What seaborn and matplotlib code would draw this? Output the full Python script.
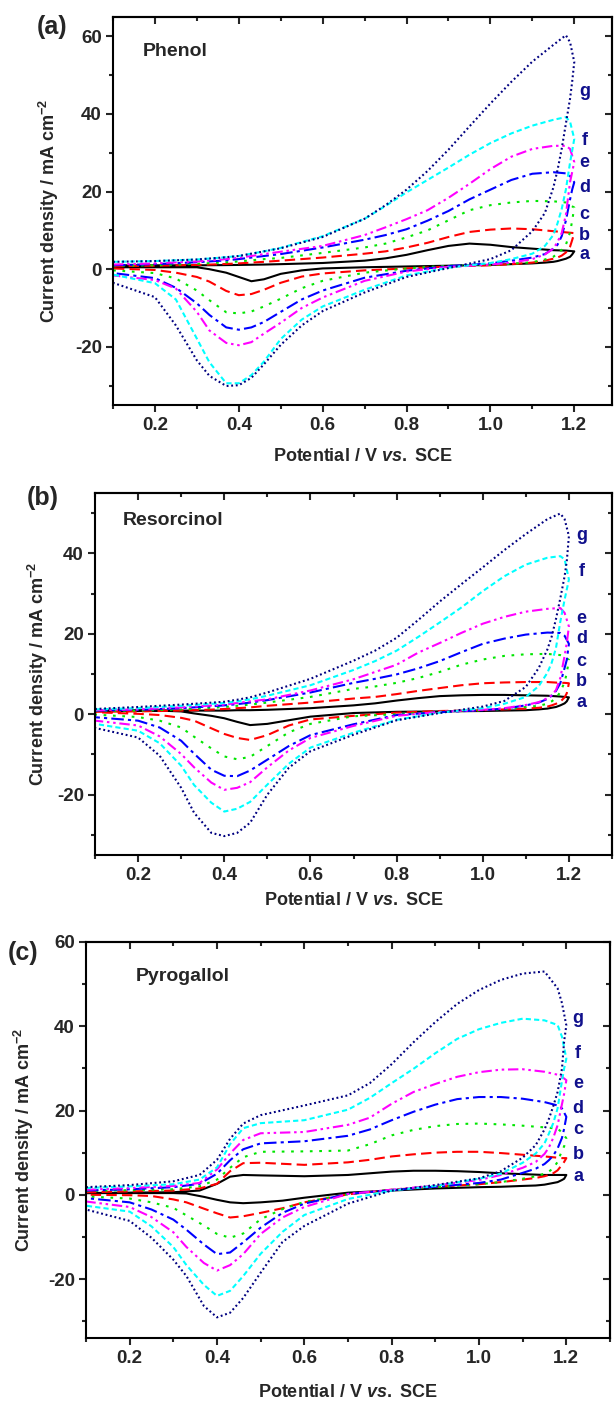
import pandas as pd
import matplotlib
matplotlib.use("Agg")
import matplotlib.pyplot as plt
from matplotlib.ticker import MultipleLocator, NullFormatter, FormatStrFormatter
import seaborn as sns

# ---------------- data ----------------
scans = ['a', 'b', 'c', 'd', 'e', 'f', 'g']

# potential grid: anodic sweep 0.1 -> 1.2 V, then back 1.2 -> 0.1 V
E_fwd = [0.1, 0.2, 0.3, 0.36, 0.4, 0.43, 0.46, 0.5, 0.6, 0.7, 0.75, 0.8, 0.85,
         0.9, 0.95, 1.0, 1.05, 1.1, 1.15, 1.18, 1.19, 1.2]
E_rev = [1.195, 1.19, 1.18, 1.17, 1.16, 1.15, 1.13, 1.1, 1.05, 1.0, 0.9, 0.8,
         0.7, 0.6, 0.55, 0.5, 0.46, 0.43, 0.4, 0.37, 0.33, 0.3, 0.25, 0.2, 0.1]

# current density (mA cm-2), one row per curve a..g
phenol_fwd = [
    [1.0, 1.0, 1.0, 1.05, 1.1, 1.15, 1.2, 1.3, 1.6, 2.2, 2.8, 3.7, 4.9, 6.0, 6.6, 6.3, 5.7, 5.3, 4.9, 4.8, 4.7, 4.6],
    [0.8, 0.9, 1.1, 1.3, 1.5, 1.7, 1.9, 2.2, 3.0, 4.0, 4.6, 5.6, 6.8, 8.3, 9.6, 10.2, 10.5, 10.3, 9.8, 9.5, 9.4, 9.3],
    [0.9, 1.0, 1.4, 1.7, 2.0, 2.3, 2.6, 2.9, 4.2, 5.6, 6.6, 8.2, 10.0, 12.6, 15.2, 16.5, 17.2, 17.6, 17.5, 17.2, 16.5, 15.9],
    [1.0, 1.3, 1.8, 2.2, 2.6, 3.0, 3.4, 3.9, 5.6, 7.6, 8.8, 10.3, 12.5, 15.0, 18.0, 20.5, 23.0, 24.6, 25.0, 24.7, 24.0, 22.4],
    [1.2, 1.5, 2.0, 2.5, 3.0, 3.4, 3.9, 4.5, 6.0, 8.8, 10.8, 12.9, 15.2, 18.4, 22.0, 25.8, 29.0, 31.0, 31.8, 31.8, 31.0, 27.6],
    [1.9, 2.1, 2.5, 3.0, 3.4, 4.0, 4.6, 5.5, 8.5, 13.0, 16.3, 19.8, 23.0, 26.2, 29.5, 32.5, 35.0, 37.0, 38.5, 39.2, 38.0, 33.6],
    [1.9, 2.1, 2.5, 3.0, 3.4, 4.0, 4.6, 5.4, 8.3, 13.0, 16.5, 20.5, 25.3, 30.8, 36.8, 42.7, 48.3, 53.5, 57.8, 60.3, 58.5, 53.4],
]
phenol_rev = [
    [3.8, 3.2, 2.7, 2.4, 2.1, 1.9, 1.7, 1.5, 1.3, 1.1, 0.9, 0.7, 0.5, 0.2, -0.3, -1.2, -2.6, -3.1, -2.0, -0.9, 0.0, 0.5, 0.5, 0.5, 0.5],
    [7.5, 5.8, 4.3, 3.5, 3.0, 2.7, 2.2, 1.7, 1.3, 1.0, 0.7, 0.2, -0.3, -1.1, -1.9, -3.5, -5.3, -6.4, -6.7, -5.6, -3.2, -2.0, -0.9, -0.2, 0.2],
    [12.5, 9.5, 6.3, 5.0, 4.0, 3.2, 2.5, 1.8, 1.4, 1.1, 0.9, 0.2, -0.9, -3.0, -4.9, -7.6, -9.6, -10.9, -11.4, -11.1, -8.0, -5.5, -2.4, -1.0, -0.3],
    [20.5, 18.0, 12.5, 8.5, 6.3, 5.3, 3.9, 3.0, 2.2, 1.5, 0.8, -0.4, -2.2, -5.5, -7.8, -11.0, -13.6, -15.0, -15.6, -15.0, -11.8, -8.8, -4.8, -2.3, -1.0],
    [25.0, 22.5, 14.0, 9.3, 7.0, 5.3, 3.8, 2.6, 1.7, 1.2, 0.6, -0.6, -3.0, -7.3, -10.0, -13.8, -16.6, -18.8, -19.6, -19.0, -15.8, -11.0, -5.0, -2.8, -1.6],
    [30.5, 27.5, 20.5, 15.5, 11.8, 8.8, 6.0, 4.0, 2.6, 1.6, 0.4, -1.6, -5.3, -9.6, -13.0, -18.0, -23.8, -27.3, -29.4, -29.4, -24.0, -17.9, -7.8, -3.6, -1.4],
    [48.3, 44.0, 37.5, 31.0, 25.5, 21.0, 14.5, 9.8, 4.9, 2.6, 0.3, -2.0, -6.0, -10.8, -14.5, -19.5, -24.5, -28.0, -29.9, -30.1, -27.5, -23.5, -14.5, -7.2, -3.5],
]

resorcinol_fwd = [
    [0.9, 0.9, 0.9, 0.9, 0.9, 1.0, 1.0, 1.1, 1.5, 2.2, 2.7, 3.4, 4.0, 4.5, 4.7, 4.8, 4.8, 4.7, 4.6, 4.4, 4.3, 4.2],
    [0.6, 0.7, 0.9, 1.1, 1.3, 1.5, 1.7, 2.1, 2.9, 3.9, 4.3, 5.0, 5.8, 6.5, 7.2, 7.7, 7.9, 8.0, 8.0, 7.8, 7.8, 7.7],
    [0.8, 0.9, 1.2, 1.5, 1.8, 2.1, 2.4, 2.9, 4.3, 6.3, 6.9, 7.8, 9.0, 10.5, 12.3, 13.6, 14.5, 14.9, 15.0, 14.7, 14.3, 13.5],
    [0.9, 1.1, 1.5, 1.9, 2.2, 2.5, 2.9, 3.5, 5.4, 7.8, 8.8, 9.9, 11.4, 13.2, 15.4, 17.5, 18.8, 19.8, 20.3, 20.2, 19.5, 17.5],
    [1.0, 1.2, 1.7, 2.1, 2.4, 2.8, 3.2, 3.7, 5.9, 8.7, 10.5, 12.3, 15.3, 17.7, 20.2, 22.5, 24.2, 25.5, 26.2, 26.4, 25.2, 21.8],
    [1.2, 1.5, 2.1, 2.5, 2.8, 3.2, 3.7, 4.6, 7.2, 11.0, 13.2, 15.8, 19.2, 22.8, 26.5, 30.6, 34.3, 37.2, 38.9, 39.3, 38.5, 33.5],
    [1.3, 1.8, 2.4, 2.8, 3.1, 3.6, 4.2, 5.4, 8.8, 13.3, 15.8, 19.0, 23.4, 28.0, 32.3, 36.5, 40.8, 44.8, 48.5, 49.9, 48.5, 44.3],
]
resorcinol_rev = [
    [3.2, 2.7, 2.2, 1.8, 1.6, 1.4, 1.2, 1.0, 0.9, 0.8, 0.7, 0.6, 0.3, -0.6, -1.5, -2.4, -2.7, -1.9, -1.0, -0.4, 0.2, 0.7, 0.9, 0.9, 0.9],
    [5.2, 4.2, 3.1, 2.6, 2.2, 1.9, 1.6, 1.4, 1.2, 1.0, 0.8, 0.4, -0.4, -1.3, -2.8, -5.2, -6.4, -5.9, -4.9, -3.5, -1.6, -0.9, -0.2, 0.1, 0.5],
    [10.2, 8.0, 5.5, 4.0, 3.2, 2.6, 2.1, 1.8, 1.3, 1.0, 0.6, 0.0, -0.5, -2.4, -4.5, -7.9, -10.6, -11.2, -10.5, -8.5, -5.6, -3.3, -1.6, -0.7, -0.1],
    [13.5, 11.5, 7.7, 5.8, 4.6, 3.8, 2.9, 2.2, 1.4, 1.0, 0.5, -0.2, -2.5, -5.2, -7.9, -11.3, -14.0, -15.4, -15.3, -13.8, -9.8, -6.6, -3.3, -1.6, -0.75],
    [17.7, 14.5, 9.0, 6.0, 4.7, 4.0, 3.0, 2.3, 1.5, 1.1, 0.6, -0.4, -2.9, -5.9, -9.0, -13.2, -16.9, -18.3, -18.8, -17.0, -13.2, -9.9, -5.5, -2.8, -1.6],
    [31.0, 28.5, 23.0, 16.5, 12.8, 10.3, 7.0, 4.3, 2.6, 1.5, 0.4, -1.4, -4.6, -8.3, -12.3, -17.5, -21.8, -23.5, -24.2, -22.0, -17.6, -12.8, -7.2, -4.1, -2.4],
    [38.0, 34.3, 28.8, 23.7, 19.3, 16.1, 11.5, 6.8, 3.3, 1.9, 0.3, -1.5, -5.1, -9.2, -13.3, -20.0, -27.0, -29.5, -30.3, -29.5, -24.5, -18.3, -10.3, -5.8, -3.4],
]

pyrogallol_fwd = [
    [0.4, 0.5, 0.6, 1.0, 2.6, 4.3, 4.7, 4.6, 4.4, 4.7, 5.1, 5.5, 5.7, 5.7, 5.6, 5.4, 5.1, 4.9, 4.7, 4.7, 4.7, 4.7],
    [0.6, 0.8, 1.0, 1.5, 2.6, 5.6, 7.5, 7.6, 7.1, 7.7, 8.3, 9.1, 9.6, 10.0, 10.2, 10.2, 9.9, 9.5, 9.1, 8.8, 8.7, 8.7],
    [0.9, 1.1, 1.3, 2.0, 3.6, 6.4, 8.9, 10.2, 10.3, 10.5, 12.0, 14.1, 15.4, 16.3, 16.8, 16.9, 16.7, 16.4, 16.0, 15.7, 14.8, 13.4],
    [1.0, 1.3, 1.8, 2.6, 5.0, 8.2, 10.8, 12.2, 12.7, 14.0, 15.5, 17.7, 19.7, 21.4, 22.7, 23.2, 23.2, 22.8, 22.0, 21.2, 20.5, 18.5],
    [1.2, 1.6, 2.1, 2.8, 6.0, 9.8, 13.0, 14.6, 14.9, 16.6, 18.3, 21.6, 24.4, 26.3, 28.0, 29.1, 29.7, 29.8, 29.2, 28.5, 28.0, 27.2],
    [1.6, 2.0, 2.5, 3.6, 6.5, 12.0, 15.8, 17.0, 17.7, 20.2, 23.0, 26.5, 29.9, 33.6, 37.0, 39.3, 40.8, 41.8, 41.4, 40.3, 37.5, 32.3],
    [1.8, 2.3, 3.2, 4.7, 8.3, 13.3, 16.9, 18.9, 21.2, 23.6, 26.5, 31.0, 36.2, 41.0, 45.3, 48.6, 51.0, 52.5, 53.0, 49.0, 45.5, 40.2],
]
pyrogallol_rev = [
    [3.8, 3.5, 3.0, 2.8, 2.6, 2.4, 2.2, 2.1, 1.9, 1.8, 1.5, 1.0, 0.5, -0.7, -1.4, -1.8, -2.0, -1.8, -1.2, -0.5, 0.3, 0.4, 0.4, 0.4, 0.4],
    [7.8, 7.1, 5.8, 5.1, 4.7, 4.4, 4.0, 3.6, 3.0, 2.5, 1.9, 1.2, 0.1, -1.8, -3.2, -4.3, -5.1, -5.4, -4.4, -3.3, -1.8, -1.1, -0.3, -0.1, 0.0],
    [11.5, 10.5, 7.8, 6.3, 5.5, 5.0, 4.4, 3.8, 3.0, 2.5, 1.8, 1.2, 0.1, -1.7, -3.4, -5.8, -9.2, -10.2, -9.3, -7.3, -4.9, -3.1, -1.8, -0.9, -0.4],
    [15.7, 13.5, 11.0, 9.3, 8.2, 7.3, 6.2, 5.2, 3.6, 2.8, 1.9, 1.1, 0.2, -2.1, -4.3, -7.8, -11.3, -13.7, -14.1, -11.8, -8.3, -5.9, -3.5, -1.8, -0.8],
    [24.0, 21.5, 16.5, 13.5, 11.2, 9.7, 7.8, 6.4, 4.7, 3.5, 2.2, 1.2, 0.2, -2.9, -5.4, -9.3, -14.1, -16.7, -18.0, -16.2, -12.4, -8.9, -5.3, -2.9, -1.6],
    [30.0, 27.0, 20.5, 17.0, 14.5, 12.2, 9.8, 7.6, 5.0, 3.8, 2.1, 1.0, -1.0, -4.8, -8.8, -14.0, -19.3, -22.8, -24.0, -21.4, -16.7, -12.4, -7.5, -4.0, -2.6],
    [36.5, 29.9, 24.4, 21.0, 18.0, 15.5, 11.8, 8.8, 5.6, 3.9, 2.3, 1.0, -2.1, -7.4, -11.2, -18.5, -24.5, -28.0, -29.1, -26.4, -19.3, -15.4, -10.2, -6.2, -3.5],
]

# heights of the a..g tags at the right edge
tag_y_phenol = [3.9, 8.6, 14.2, 21.1, 27.5, 33.2, 45.7]
tag_y_resorcinol = [2.8, 8.1, 13.1, 18.9, 23.7, 35.4, 44.5]
tag_y_pyrogallol = [4.3, 9.6, 15.6, 20.5, 26.4, 33.5, 41.9]

# ---------------- style ----------------
sns.set_style("white")
plt.rcParams['font.family'] = ['Liberation Sans', 'DejaVu Sans']
plt.rcParams['font.weight'] = 'bold'
plt.rcParams['axes.labelweight'] = 'bold'
plt.rcParams['axes.unicode_minus'] = False
plt.rcParams['mathtext.fontset'] = 'custom'
plt.rcParams['mathtext.rm'] = 'Liberation Sans:bold'
plt.rcParams['mathtext.bf'] = 'Liberation Sans:bold'
plt.rcParams['mathtext.it'] = 'Liberation Sans:italic:bold'

colors = {'a': '#000000', 'b': '#ff0000', 'c': '#00e600', 'd': '#0000ff',
          'e': '#ff00ff', 'f': '#00ffff', 'g': '#000080'}
dashes = {'a': '', 'b': (5, 2.5), 'c': (1.3, 3.2), 'd': (6, 2, 1.5, 2),
          'e': (5, 1.8, 1.2, 1.8, 1.2, 1.8), 'f': (2.5, 1.5), 'g': (0.9, 1.3)}
tag_color = '#10108c'


def loop_frame(fwd, rev):
    rows = []
    for name, jf, jr in zip(scans, fwd, rev):
        for E, j in zip(E_fwd + E_rev, jf + jr):
            rows.append((name, E, j))
    return pd.DataFrame(rows, columns=['scan', 'E', 'j'])


fig = plt.figure(figsize=(6.14, 14.02), dpi=100)
W, H = 614, 1402


def px_axes(left, right, top, bottom):
    return fig.add_axes([left / W, 1 - bottom / H, (right - left) / W, (bottom - top) / H])


panels = [
    # axes box (px), xmax, ylim, name, name pos, tags, tag x, panel letter pos, ylabel x, xlabel y
    ((113, 612, 17, 405), 1.29, (-35, 65), 'Phenol', (0.06, 0.91), phenol_fwd, phenol_rev,
     tag_y_phenol, 1.225, '(a)', (37, 27), -0.104, -0.112),
    ((95, 612, 493, 855), 1.30, (-35, 55), 'Resorcinol', (0.054, 0.925), resorcinol_fwd, resorcinol_rev,
     tag_y_resorcinol, 1.229, '(b)', (27, 498), -0.087, -0.103),
    ((86, 610, 942, 1338), 1.30, (-34, 60), 'Pyrogallol', (0.094, 0.914), pyrogallol_fwd, pyrogallol_rev,
     tag_y_pyrogallol, 1.227, '(c)', (8, 953), -0.095, -0.115),
]

for box, xmax, ylim, name, name_pos, fwd, rev, tag_y, tag_x, letter, letter_pos, ylab_x, xlab_y in panels:
    ax = px_axes(*box)
    df = loop_frame(fwd, rev)
    sns.lineplot(data=df, x='E', y='j', hue='scan', style='scan',
                 hue_order=scans, style_order=scans, palette=colors, dashes=dashes,
                 sort=False, estimator=None, legend=False, linewidth=1.5, ax=ax)

    ax.set_xlim(0.1, xmax)
    ax.set_ylim(*ylim)
    ax.xaxis.set_major_locator(MultipleLocator(0.2))
    ax.xaxis.set_minor_locator(MultipleLocator(0.1))
    ax.yaxis.set_major_locator(MultipleLocator(20))
    ax.yaxis.set_minor_locator(MultipleLocator(10))
    ax.xaxis.set_major_formatter(FormatStrFormatter('%.1f'))
    ax.yaxis.set_major_formatter(FormatStrFormatter('%d'))
    ax.tick_params(which='both', direction='out', width=1.5, labelsize=13.5,
                   top=False, right=False, bottom=True, left=True)
    ax.tick_params(which='major', length=5)
    ax.tick_params(which='minor', length=2.6)
    ax.tick_params(axis='x', pad=3.5)
    ax.tick_params(axis='y', pad=3)
    for sp in ax.spines.values():
        sp.set_linewidth(1.5)
        sp.set_color('black')

    # inward ticks on the top and right frame
    top = ax.secondary_xaxis('top')
    top.xaxis.set_major_locator(MultipleLocator(0.2))
    top.xaxis.set_minor_locator(MultipleLocator(0.1))
    top.xaxis.set_major_formatter(NullFormatter())
    top.tick_params(which='both', direction='in', width=1.5)
    top.tick_params(which='major', length=5)
    top.tick_params(which='minor', length=2.6)
    top.spines['top'].set_linewidth(1.5)
    right = ax.secondary_yaxis('right')
    right.yaxis.set_major_locator(MultipleLocator(20))
    right.yaxis.set_minor_locator(MultipleLocator(10))
    right.yaxis.set_major_formatter(NullFormatter())
    right.tick_params(which='both', direction='in', width=1.5)
    right.tick_params(which='major', length=5)
    right.tick_params(which='minor', length=2.6)
    right.spines['right'].set_linewidth(1.5)

    ax.set_xlabel(r'Potential / V $\it{vs.}$ SCE', fontsize=13, fontweight='bold')
    ax.set_ylabel(r'Current density / mA cm$^{\mathrm{-2}}$', fontsize=13, fontweight='bold')
    ax.xaxis.set_label_coords(0.5, xlab_y)
    ax.yaxis.set_label_coords(ylab_x, 0.5)

    ax.text(name_pos[0], name_pos[1], name, transform=ax.transAxes,
            fontsize=14, fontweight='bold', ha='left', va='center')
    for s, y in zip(scans, tag_y):
        ax.text(tag_x, y, s, color=tag_color, fontsize=13, fontweight='bold',
                ha='center', va='center')

    fig.text(letter_pos[0] / W, 1 - letter_pos[1] / H, letter, fontsize=18,
             fontweight='bold', ha='left', va='center')

fig.savefig('out.png', dpi=100)
